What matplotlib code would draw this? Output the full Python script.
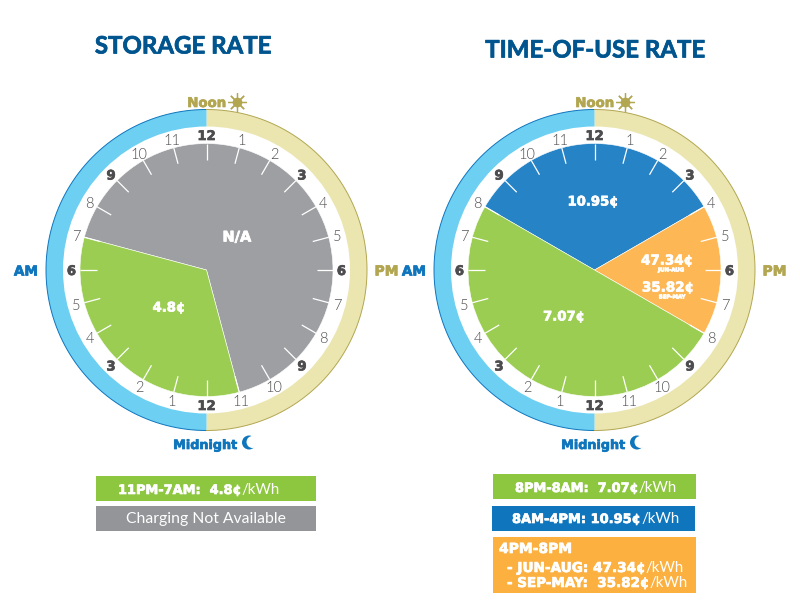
import numpy as np
from matplotlib import pyplot as plt
from matplotlib import patheffects as pe
from matplotlib.patches import Rectangle, Circle

# storage rate clock, hours clockwise from 7AM
storage_hours = [16, 8]
storage_colors = ['#9d9fa2', '#9bcd52']
# time-of-use clock, hours clockwise from 8AM
tou_hours = [8, 4, 12]
tou_colors = ['#2683c6', '#fdb855', '#9bcd52']
half_day_hours = [12, 12]

hour_labels = ['12', '1', '2', '3', '4', '5', '6', '7', '8', '9', '10', '11']
bold_labels = ['12', '3', '6', '9']

blue = '#0f75bc'
olive = '#b2a651'
ring_colors = ['#ebe6b0', '#6dcff2']
label_color = '#4d4d4f'
title_color = '#00558f'
RING_R, RING_W = 160.5, 17
PIE_R = 126.5
CY = 340

plt.rcParams['font.family'] = ['Lato', 'DejaVu Sans']
fig = plt.figure(figsize=(8, 6.1), dpi=100)
ax = fig.add_axes([0, 0, 1, 1])


def heavy(x, y, s, size, color='white', ha='center', va='center'):
    # DejaVu bold with a thin stroke, closest to the black weight of the original
    return ax.text(x, y, s, fontsize=size, color=color, ha=ha, va=va, family='DejaVu Sans', fontweight='bold',
                   path_effects=[pe.withStroke(linewidth=0.5, foreground=color)])


def runs(x, y, txt, size, unit='/kWh'):
    # bold text and light unit one after another on one baseline
    renderer = fig.canvas.get_renderer()
    t = heavy(x, y, txt, size, ha='left', va='baseline')
    if unit:
        x += t.get_window_extent(renderer).width
        ax.text(x, y, unit, fontsize=10.8, fontweight='normal', color='white', ha='left', va='baseline')


def clock(cx, hours, colors, start_hour):
    ax.pie(half_day_hours, colors=ring_colors, startangle=90, counterclock=False, center=(cx, CY), radius=RING_R,
           wedgeprops=dict(width=RING_W), frame=True)
    theta = np.linspace(np.pi / 2, 3 * np.pi / 2, 100)
    ax.plot(cx + RING_R * np.cos(theta), CY + RING_R * np.sin(theta), color=blue, lw=0.7)
    ax.plot(cx - RING_R * np.cos(theta), CY + RING_R * np.sin(theta), color=olive, lw=0.7)
    # start_hour counts hours after noon, negative means before noon
    ax.pie(hours, colors=colors, startangle=90 - start_hour * 15, counterclock=False, center=(cx, CY), radius=PIE_R,
           wedgeprops=dict(edgecolor='white', linewidth=0.4), frame=True)
    for half in range(2):
        for i, lab in enumerate(hour_labels):
            a = np.deg2rad(90 - (i + half * 12) * 15)
            ax.plot([cx + 110 * np.cos(a), cx + PIE_R * np.cos(a)], [CY + 110 * np.sin(a), CY + PIE_R * np.sin(a)],
                    color='white', lw=0.9, solid_capstyle='butt')
            if lab in bold_labels:
                heavy(cx + 135 * np.cos(a), CY + 135 * np.sin(a), lab, 9.5, label_color, va='center_baseline')
            else:
                ax.text(cx + 135 * np.cos(a), CY + 135 * np.sin(a), lab, ha='center', va='center_baseline',
                        fontsize=10.5, fontweight=300, color=label_color)
    heavy(cx - 168.5, CY, 'AM', 9.8, blue, ha='right', va='center_baseline')
    heavy(cx + 168, CY, 'PM', 10, olive, ha='left', va='center_baseline')
    heavy(cx + 20, 610 - 102, 'Noon', 9.6, olive, ha='right', va='center_baseline')
    # sun: disc with rays
    ax.plot([cx + 30.5], [610 - 101.5], marker=(8, 2, 0), ms=13.5, mew=0.9, color=olive)
    ax.plot([cx + 30.5], [610 - 101.5], marker='o', ms=7, mew=0, color=olive)
    heavy(cx + 31, 610 - 444, 'Midnight', 9.2, blue, ha='right', va='center_baseline')
    # moon: white disc cut out of a blue one
    ax.add_patch(Circle((cx + 42.5, 610 - 442.5), 7, color=blue, lw=0))
    ax.add_patch(Circle((cx + 46, 610 - 442), 6, color='white', lw=0))


clock(206.5, storage_hours, storage_colors, -5)
clock(594.5, tou_hours, tou_colors, -4)

for x, y, title in [(183, 46, 'STORAGE RATE'), (595, 50, 'TIME-OF-USE RATE')]:
    ax.text(x, 610 - y, title, ha='center', va='center', fontsize=17.3, fontweight='bold', color=title_color,
            path_effects=[pe.withStroke(linewidth=0.5, foreground=title_color)])

# values inside the clocks
heavy(237, 610 - 237, 'N/A', 10.5)
heavy(169, 610 - 308, '4.8¢', 9.5)
heavy(593, 610 - 202, '10.95¢', 9.5)
heavy(564, 610 - 317, '7.07¢', 9.5)
heavy(667, 610 - 261, '47.34¢', 9.7)
heavy(671, 610 - 270, 'JUN-AUG', 3.9)
heavy(668, 610 - 288, '35.82¢', 9.7)
heavy(672, 610 - 297, 'SEP-MAY', 3.9)

# legend boxes
ax.add_patch(Rectangle((96, 610 - 501), 220, 25, color='#8dc63f', lw=0))
ax.add_patch(Rectangle((96, 610 - 531), 220, 25, color='#939598', lw=0))
ax.add_patch(Rectangle((492.5, 610 - 499), 203.5, 25, color='#8dc63f', lw=0))
ax.add_patch(Rectangle((491.5, 610 - 531), 203.5, 25, color=blue, lw=0))
ax.add_patch(Rectangle((493, 610 - 593), 203, 56, color='#fbb040', lw=0))

runs(118, 610 - 494, '11PM-7AM:  4.8¢', 9.3)
ax.text(206, 610 - 519, 'Charging Not Available', ha='center', va='center', fontsize=11.3, color='white')
runs(515, 610 - 492, '8PM-8AM:  7.07¢', 9.3)
runs(512, 610 - 523, '8AM-4PM: 10.95¢', 9.35)
runs(499, 610 - 553, '4PM-8PM', 10, unit=None)
runs(507, 610 - 572, '- JUN-AUG: 47.34¢', 9.8)
runs(507, 610 - 587, '- SEP-MAY:  35.82¢', 9.7)

ax.set_xlim(0, 800)
ax.set_ylim(0, 610)
ax.axis('off')
fig.savefig('out.png', dpi=100)
